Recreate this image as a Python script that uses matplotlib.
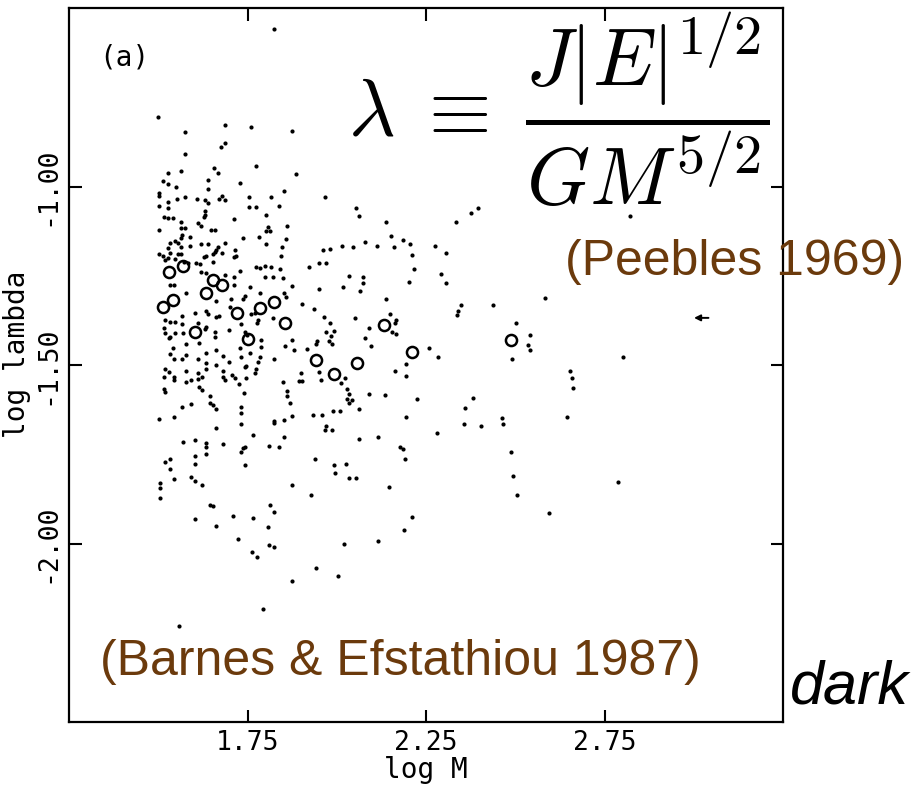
import matplotlib
matplotlib.use('Agg')
import matplotlib.pyplot as plt

# halo points: log M, log lambda
dot_log_m = [
    1.500, 1.576, 1.686, 1.761, 1.876, 1.576, 1.677, 1.686, 1.773, 1.886,
    1.526, 1.563, 1.656, 1.666, 1.513, 1.526, 1.551, 1.638, 1.728, 1.638,
    1.501, 1.501, 1.851, 1.526, 1.552, 1.576, 1.608, 1.630, 1.669, 1.678,
    1.686, 1.753, 1.816, 1.501, 1.527, 1.639, 1.753, 1.773, 1.839, 1.630,
    1.632, 1.628, 1.516, 1.526, 1.541, 1.712, 1.803, 1.565, 1.611, 1.619,
    1.565, 1.576, 1.649, 1.660, 1.501, 1.808, 1.814, 1.803, 1.862, 1.567,
    1.565, 1.588, 1.737, 1.781, 1.858, 1.532, 1.546, 1.555, 1.588, 1.621,
    1.639, 1.686, 1.803, 1.527, 1.563, 1.667, 1.662, 1.714, 1.846, 1.501,
    1.513, 1.532, 1.527, 1.555, 1.565, 1.653, 1.658, 1.678, 1.628, 1.635,
    1.712, 1.719, 1.844, 1.518, 1.546, 1.607, 1.616, 1.653, 1.572, 1.583,
    1.775, 1.784, 1.798, 1.816, 1.842, 1.712, 1.730, 1.686, 1.798, 1.821,
    1.849, 1.621, 1.635,
    1.532, 1.544, 1.579, 1.712, 1.756, 1.876, 1.784, 1.851, 1.858, 1.904,
    1.742, 1.737, 1.703, 1.662, 1.700, 1.635, 1.639, 1.602, 1.567, 1.669,
    1.662, 1.770, 1.759, 1.733, 1.779, 1.777, 1.821, 1.520, 1.532, 1.546,
    1.611, 1.567, 1.516, 1.635, 1.632, 1.518, 1.532, 1.546, 1.569, 1.660,
    1.660, 1.697, 1.742, 1.749, 1.529, 1.613, 1.579, 1.787, 1.876, 1.541,
    1.662, 1.730, 1.788, 1.855, 1.879, 1.532, 1.579, 1.635, 1.681, 1.756,
    1.544, 1.567, 1.611, 1.633, 1.662, 1.733, 1.784, 1.779, 1.825, 1.698,
    1.742, 1.747, 1.520, 1.529, 1.579, 1.611, 1.635, 1.681, 1.775, 1.770,
    1.516, 1.544, 1.544, 1.579, 1.593, 1.611, 1.622, 1.681, 1.688, 1.706,
    1.714, 1.747, 1.725, 1.900, 1.895, 1.904, 1.849, 1.516, 1.518, 1.613,
    1.622, 1.740, 1.861, 1.861, 1.644, 1.567, 1.591, 1.644, 1.653, 1.662,
    1.733, 1.733, 1.870, 1.503, 1.544, 1.662, 1.733, 1.825, 1.825, 1.851,
    1.875, 1.765, 1.851, 1.569, 1.604, 1.635, 1.635, 1.681, 1.742, 1.737,
    1.809, 1.839, 1.602, 1.635, 1.733, 1.532,
    1.518, 1.602, 1.742, 1.532, 1.544, 1.593, 1.602, 1.622, 1.504, 1.504,
    1.504, 1.876, 1.644, 1.653, 1.812, 1.825, 1.602, 1.709, 1.765, 1.807,
    1.662, 1.723, 1.811, 1.825, 1.763, 1.777, 1.875, 1.793, 1.557, 1.825,
    1.968, 2.055, 2.063, 2.139, 2.335, 2.375, 2.395, 2.151, 2.186, 2.205,
    1.962, 1.981, 2.015, 2.046, 2.080, 2.113, 2.159, 2.274, 2.306, 2.210,
    1.923, 1.949, 1.971, 2.216, 2.033, 2.074, 2.074, 2.017, 2.065, 1.951,
    2.201, 2.292, 2.307, 2.139,
    1.937, 1.965, 1.981, 2.051, 1.971, 1.993, 1.984, 1.946, 1.942, 1.977,
    1.988, 1.916, 2.149, 2.165, 2.163, 2.091, 2.156, 2.165, 2.080, 2.096,
    1.949, 1.955, 2.012, 2.024, 2.193, 2.163, 2.195, 2.258, 2.284, 2.028,
    2.033, 2.028, 2.035, 2.044, 2.089, 2.135, 2.224, 2.381, 2.358, 2.061,
    1.990, 2.009, 1.934, 1.959, 2.193, 2.356, 1.971, 1.968, 1.987, 2.280,
    2.115, 2.061, 2.177, 2.186, 1.940, 1.992, 2.026, 2.191, 2.347, 2.340,
    2.337,
    1.996, 2.033, 2.055, 2.145, 1.929, 2.212, 2.189, 2.115, 2.020, 1.943,
    2.004,
    2.822, 2.584, 2.438, 2.503, 2.542, 2.535, 2.540, 2.491, 2.803, 2.652,
    2.659, 2.663, 2.463, 2.403, 2.465, 2.645, 2.489, 2.494, 2.789, 2.506,
    2.594,
]
dot_log_lambda = [
    -0.806, -0.848, -0.829, -0.833, -0.844, -0.909, -0.890, -0.879, -0.943, -0.965,
    -0.963, -0.956, -0.949, -0.962, -0.985, -0.993, -1.001, -0.982, -0.990, -1.008,
    -1.019, -1.027, -1.013, -1.043, -1.036, -1.029, -1.034, -1.037, -1.035, -1.027,
    -1.038, -1.030, -1.029, -1.055, -1.061, -1.047, -1.058, -1.057, -1.054, -1.068,
    -1.080, -1.086, -1.085, -1.089, -1.089, -1.091, -1.080, -1.099, -1.103, -1.112,
    -1.117, -1.117, -1.122, -1.122, -1.122, -1.113, -1.125, -1.125, -1.110, -1.136,
    -1.145, -1.142, -1.145, -1.141, -1.148, -1.157, -1.152, -1.159, -1.166, -1.161,
    -1.161, -1.157, -1.161, -1.173, -1.169, -1.169, -1.178, -1.178, -1.170, -1.189,
    -1.195, -1.187, -1.201, -1.189, -1.189, -1.189, -1.183, -1.187, -1.197, -1.195,
    -1.197, -1.195, -1.195, -1.206, -1.204, -1.215, -1.217, -1.211, -1.211, -1.215,
    -1.225, -1.229, -1.223, -1.225, -1.232, -1.254, -1.236, -1.248, -1.253, -1.254,
    -1.257, -1.239, -1.243,
    -1.276, -1.276, -1.299, -1.276, -1.282, -1.278, -1.299, -1.297, -1.309, -1.329,
    -1.307, -1.316, -1.315, -1.320, -1.337, -1.348, -1.357, -1.353, -1.363, -1.363,
    -1.366, -1.353, -1.357, -1.385, -1.374, -1.382, -1.369, -1.374, -1.379, -1.379,
    -1.382, -1.385, -1.395, -1.393, -1.400, -1.410, -1.422, -1.410, -1.411, -1.407,
    -1.422, -1.402, -1.407, -1.416, -1.425, -1.437, -1.441, -1.430, -1.430, -1.453,
    -1.458, -1.453, -1.450, -1.447, -1.458, -1.469, -1.472, -1.466, -1.475, -1.467,
    -1.483, -1.484, -1.483, -1.495, -1.500, -1.477, -1.477, -1.491, -1.483, -1.491,
    -1.507, -1.503, -1.512, -1.519, -1.516, -1.522, -1.512, -1.516, -1.512, -1.523,
    -1.534, -1.534, -1.542, -1.547, -1.542, -1.540, -1.533, -1.533, -1.542, -1.528,
    -1.537, -1.537, -1.553, -1.523, -1.545, -1.545, -1.547, -1.568, -1.575, -1.562,
    -1.570, -1.579, -1.572, -1.587, -1.587, -1.617, -1.609, -1.606, -1.612, -1.624,
    -1.617, -1.635, -1.607, -1.650, -1.645, -1.677, -1.665, -1.656, -1.662, -1.654,
    -1.643, -1.695, -1.701, -1.715, -1.710, -1.719, -1.730, -1.721, -1.729, -1.733,
    -1.726, -1.731, -1.755, -1.749, -1.743, -1.763,
    -1.771, -1.777, -1.780, -1.792, -1.820, -1.813, -1.824, -1.835, -1.831, -1.845,
    -1.873, -1.835, -1.891, -1.894, -1.891, -1.913, -1.931, -1.922, -1.929, -1.955,
    -1.950, -1.987, -2.005, -2.010, -2.023, -2.039, -2.105, -2.184, -2.230, -0.560,
    -1.029, -1.061, -1.082, -1.099, -1.100, -1.075, -1.061, -1.139, -1.150, -1.161,
    -1.178, -1.174, -1.166, -1.169, -1.156, -1.166, -1.169, -1.166, -1.187, -1.192,
    -1.225, -1.214, -1.213, -1.231, -1.251, -1.253, -1.271, -1.281, -1.292, -1.288,
    -1.267, -1.245, -1.271, -1.316,
    -1.343, -1.365, -1.382, -1.369, -1.407, -1.405, -1.419, -1.432, -1.441, -1.432,
    -1.441, -1.455, -1.358, -1.374, -1.382, -1.396, -1.407, -1.413, -1.424, -1.446,
    -1.521, -1.542, -1.550, -1.536, -1.497, -1.516, -1.530, -1.452, -1.478, -1.568,
    -1.582, -1.596, -1.606, -1.598, -1.582, -1.585, -1.596, -1.592, -1.620, -1.624,
    -1.628, -1.628, -1.641, -1.641, -1.646, -1.665, -1.670, -1.682, -1.681, -1.690,
    -1.702, -1.707, -1.729, -1.736, -1.762, -1.779, -1.777, -1.764, -1.332, -1.348,
    -1.360,
    -1.802, -1.816, -1.817, -1.841, -1.864, -1.926, -1.962, -1.993, -2.001, -2.069,
    -2.090,
    -1.082, -1.311, -1.332, -1.383, -1.416, -1.444, -1.458, -1.484, -1.477, -1.517,
    -1.537, -1.565, -1.648, -1.671, -1.666, -1.646, -1.744, -1.810, -1.829, -1.863,
    -1.915,
]

# open circles
circ_log_m = [1.530, 1.568, 1.513, 1.540, 1.602, 1.633, 1.653, 1.679, 1.721, 1.751,
              1.786, 1.823, 1.855, 1.942, 1.991, 2.058, 2.133, 2.210, 2.487]
circ_log_lambda = [-1.239, -1.222, -1.337, -1.318, -1.408, -1.297, -1.262, -1.276, -1.355, -1.427,
                   -1.339, -1.323, -1.383, -1.486, -1.526, -1.494, -1.388, -1.463, -1.430]

x_ticks = [1.75, 2.25, 2.75]
x_tick_labels = ['1.75', '2.25', '2.75']
y_ticks = [-1.0, -1.5, -2.0]
y_tick_labels = ['-1.00', '-1.50', '-2.00']

# little arrow at the right edge
arrow_tip = (2.993, -1.368)
arrow_tail = (3.049, -1.368)

brown = '#6b3a0c'
mono = 'DejaVu Sans Mono'
plt.rcParams['mathtext.fontset'] = 'cm'

fig = plt.figure(figsize=(9.12, 7.85), dpi=100)
ax = fig.add_axes([69 / 912, 1 - 722 / 785, 714 / 912, 714 / 785])

ax.scatter(dot_log_m, dot_log_lambda, s=9, c='black', linewidths=0)
ax.plot(circ_log_m, circ_log_lambda, 'o', ls='none', ms=8, mfc='none',
        mec='black', mew=1.8)
ax.annotate('', xy=arrow_tip, xytext=arrow_tail,
            arrowprops=dict(arrowstyle='-|>', lw=1.4, color='black',
                            mutation_scale=9))

ax.set_xlim(1.25, 3.25)
ax.set_ylim(-2.5, -0.5)
ax.set_xticks(x_ticks)
ax.set_xticklabels(x_tick_labels, fontfamily=mono, fontsize=19)
ax.set_yticks(y_ticks)
ax.set_yticklabels(y_tick_labels, fontfamily=mono, fontsize=19,
                   rotation=90, va='center')
ax.tick_params(direction='in', length=9, width=1.5, top=True, right=True,
               pad=6)
for sp in ax.spines.values():
    sp.set_linewidth(1.6)

ax.set_xlabel('log M', fontfamily=mono, fontsize=20, labelpad=0)
ax.set_ylabel('log lambda', fontfamily=mono, fontsize=20)
ax.yaxis.set_label_coords(-0.053, 0.515)

ax.text(0.043, 0.931, '(a)', transform=ax.transAxes, fontfamily=mono,
        fontsize=20, va='center', ha='left')

fig.text(0.613, 0.861, r'$\lambda\;\equiv\;\dfrac{J|E|^{1/2}}{GM^{5/2}}$',
         fontsize=58, ha='center', va='center')
fig.text(565 / 912, 1 - 275 / 785, '(Peebles 1969)', color=brown,
         fontfamily='Liberation Sans', fontsize=36, ha='left', va='baseline')
fig.text(100 / 912, 1 - 675 / 785, '(Barnes & Efstathiou 1987)', color=brown,
         fontfamily='Liberation Sans', fontsize=36, ha='left', va='baseline')
fig.text(790 / 912, 1 - 703 / 785, 'dark', color='black', style='italic',
         fontfamily='Liberation Sans', fontsize=44, ha='left', va='baseline')

fig.savefig('out.png', dpi=100)
